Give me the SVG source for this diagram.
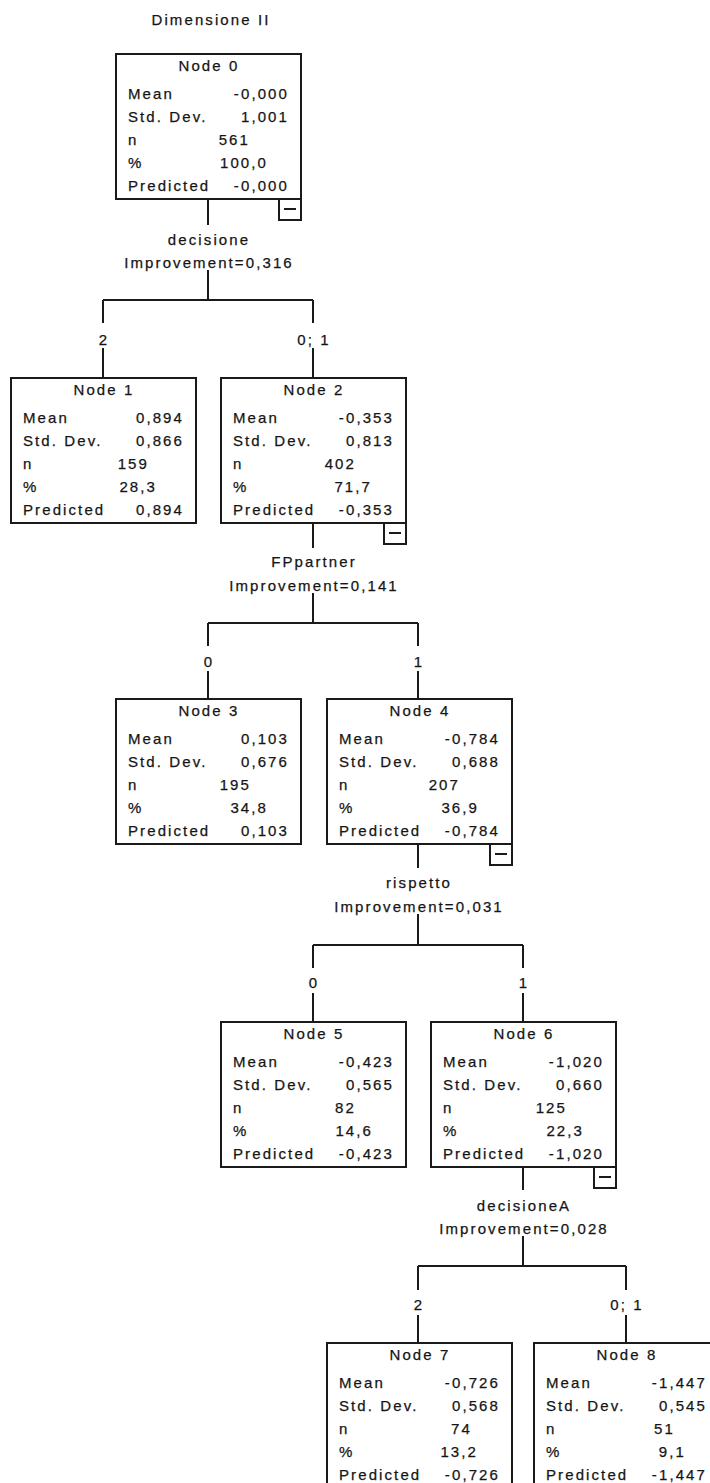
<svg xmlns="http://www.w3.org/2000/svg" width="710" height="1483" viewBox="0 0 710 1483">
<style>
.bg{fill:#ffffff}
.box{fill:#ffffff;stroke:#1a1a1a;stroke-width:2}
.cb{fill:#ffffff;stroke:#1a1a1a;stroke-width:2}
.ln{stroke:#1a1a1a;stroke-width:2;fill:none}
text{font-family:"Liberation Sans",Arial,sans-serif;font-size:15px;letter-spacing:2.1px;fill:#151515;stroke:#151515;stroke-width:0.25}
.c{text-anchor:middle}
.e{text-anchor:end}
</style>
<rect class="bg" x="0" y="0" width="710" height="1483"/>
<text class="c" x="211" y="25">Dimensione II</text>

<g id="connectors">
  <path class="ln" d="M208 200V225M208 270V300M103 300H313M103 300V323M103 348V378M313 300V323M313 348V378"/>
  <path class="ln" d="M313 523V548M313 593V623M208 623H418M208 623V646M208 671V699M418 623V646M418 671V699"/>
  <path class="ln" d="M418 844V868M418 914V945M313 945H523M313 945V968M313 993V1022M523 945V968M523 993V1022"/>
  <path class="ln" d="M523 1167V1190M523 1236V1266M418 1266H626M418 1266V1290M418 1315V1343M626 1266V1290M626 1315V1343"/>
  <text class="c" x="209" y="245">decisione</text>
  <text class="c" x="209" y="268">Improvement=0,316</text>
  <text class="c" x="104" y="345">2</text>
  <text class="c" x="314" y="345">0; 1</text>
  <text class="c" x="314" y="567">FPpartner</text>
  <text class="c" x="314" y="591">Improvement=0,141</text>
  <text class="c" x="209" y="667">0</text>
  <text class="c" x="419" y="667">1</text>
  <text class="c" x="419" y="888">rispetto</text>
  <text class="c" x="419" y="912">Improvement=0,031</text>
  <text class="c" x="314" y="988">0</text>
  <text class="c" x="524" y="988">1</text>
  <text class="c" x="524" y="1211">decisioneA</text>
  <text class="c" x="524" y="1234">Improvement=0,028</text>
  <text class="c" x="419" y="1310">2</text>
  <text class="c" x="627" y="1310">0; 1</text>
</g>

<g id="node0" transform="translate(116,54)">
  <rect class="box" x="0" y="0" width="185" height="145"/>
  <text class="c" x="93" y="17">Node 0</text>
  <text x="12" y="45">Mean</text><text class="e" x="173" y="45">-0,000</text>
  <text x="12" y="68">Std. Dev.</text><text class="e" x="173" y="68">1,001</text>
  <text x="12" y="91">n</text><text class="e" x="134" y="91">561</text>
  <text x="12" y="114">%</text><text class="e" x="152" y="114">100,0</text>
  <text x="12" y="137">Predicted</text><text class="e" x="173" y="137">-0,000</text>
  <rect class="cb" x="163" y="145" width="22" height="21"/>
  <path class="ln" d="M168 155H180"/>
</g>

<g id="node1" transform="translate(11,378)">
  <rect class="box" x="0" y="0" width="185" height="145"/>
  <text class="c" x="93" y="17">Node 1</text>
  <text x="12" y="45">Mean</text><text class="e" x="173" y="45">0,894</text>
  <text x="12" y="68">Std. Dev.</text><text class="e" x="173" y="68">0,866</text>
  <text x="12" y="91">n</text><text class="e" x="138" y="91">159</text>
  <text x="12" y="114">%</text><text class="e" x="146" y="114">28,3</text>
  <text x="12" y="137">Predicted</text><text class="e" x="173" y="137">0,894</text>
</g>

<g id="node2" transform="translate(221,378)">
  <rect class="box" x="0" y="0" width="185" height="145"/>
  <text class="c" x="93" y="17">Node 2</text>
  <text x="12" y="45">Mean</text><text class="e" x="173" y="45">-0,353</text>
  <text x="12" y="68">Std. Dev.</text><text class="e" x="173" y="68">0,813</text>
  <text x="12" y="91">n</text><text class="e" x="135" y="91">402</text>
  <text x="12" y="114">%</text><text class="e" x="151" y="114">71,7</text>
  <text x="12" y="137">Predicted</text><text class="e" x="173" y="137">-0,353</text>
  <rect class="cb" x="163" y="145" width="22" height="21"/>
  <path class="ln" d="M168 155H180"/>
</g>

<g id="node3" transform="translate(116,699)">
  <rect class="box" x="0" y="0" width="185" height="145"/>
  <text class="c" x="93" y="17">Node 3</text>
  <text x="12" y="45">Mean</text><text class="e" x="173" y="45">0,103</text>
  <text x="12" y="68">Std. Dev.</text><text class="e" x="173" y="68">0,676</text>
  <text x="12" y="91">n</text><text class="e" x="135" y="91">195</text>
  <text x="12" y="114">%</text><text class="e" x="152" y="114">34,8</text>
  <text x="12" y="137">Predicted</text><text class="e" x="173" y="137">0,103</text>
</g>

<g id="node4" transform="translate(327,699)">
  <rect class="box" x="0" y="0" width="185" height="145"/>
  <text class="c" x="93" y="17">Node 4</text>
  <text x="12" y="45">Mean</text><text class="e" x="173" y="45">-0,784</text>
  <text x="12" y="68">Std. Dev.</text><text class="e" x="173" y="68">0,688</text>
  <text x="12" y="91">n</text><text class="e" x="133" y="91">207</text>
  <text x="12" y="114">%</text><text class="e" x="152" y="114">36,9</text>
  <text x="12" y="137">Predicted</text><text class="e" x="173" y="137">-0,784</text>
  <rect class="cb" x="163" y="145" width="22" height="21"/>
  <path class="ln" d="M168 155H180"/>
</g>

<g id="node5" transform="translate(221,1022)">
  <rect class="box" x="0" y="0" width="185" height="145"/>
  <text class="c" x="93" y="17">Node 5</text>
  <text x="12" y="45">Mean</text><text class="e" x="173" y="45">-0,423</text>
  <text x="12" y="68">Std. Dev.</text><text class="e" x="173" y="68">0,565</text>
  <text x="12" y="91">n</text><text class="e" x="135" y="91">82</text>
  <text x="12" y="114">%</text><text class="e" x="152" y="114">14,6</text>
  <text x="12" y="137">Predicted</text><text class="e" x="173" y="137">-0,423</text>
</g>

<g id="node6" transform="translate(431,1022)">
  <rect class="box" x="0" y="0" width="185" height="145"/>
  <text class="c" x="93" y="17">Node 6</text>
  <text x="12" y="45">Mean</text><text class="e" x="173" y="45">-1,020</text>
  <text x="12" y="68">Std. Dev.</text><text class="e" x="173" y="68">0,660</text>
  <text x="12" y="91">n</text><text class="e" x="136" y="91">125</text>
  <text x="12" y="114">%</text><text class="e" x="153" y="114">22,3</text>
  <text x="12" y="137">Predicted</text><text class="e" x="173" y="137">-1,020</text>
  <rect class="cb" x="163" y="145" width="22" height="21"/>
  <path class="ln" d="M168 155H180"/>
</g>

<g id="node7" transform="translate(327,1343)">
  <rect class="box" x="0" y="0" width="185" height="145"/>
  <text class="c" x="93" y="17">Node 7</text>
  <text x="12" y="45">Mean</text><text class="e" x="173" y="45">-0,726</text>
  <text x="12" y="68">Std. Dev.</text><text class="e" x="173" y="68">0,568</text>
  <text x="12" y="91">n</text><text class="e" x="145" y="91">74</text>
  <text x="12" y="114">%</text><text class="e" x="151" y="114">13,2</text>
  <text x="12" y="137">Predicted</text><text class="e" x="173" y="137">-0,726</text>
</g>

<g id="node8" transform="translate(534,1343)">
  <rect class="box" x="0" y="0" width="185" height="145"/>
  <text class="c" x="93" y="17">Node 8</text>
  <text x="12" y="45">Mean</text><text class="e" x="173" y="45">-1,447</text>
  <text x="12" y="68">Std. Dev.</text><text class="e" x="173" y="68">0,545</text>
  <text x="12" y="91">n</text><text class="e" x="141" y="91">51</text>
  <text x="12" y="114">%</text><text class="e" x="152" y="114">9,1</text>
  <text x="12" y="137">Predicted</text><text class="e" x="173" y="137">-1,447</text>
</g>
</svg>
